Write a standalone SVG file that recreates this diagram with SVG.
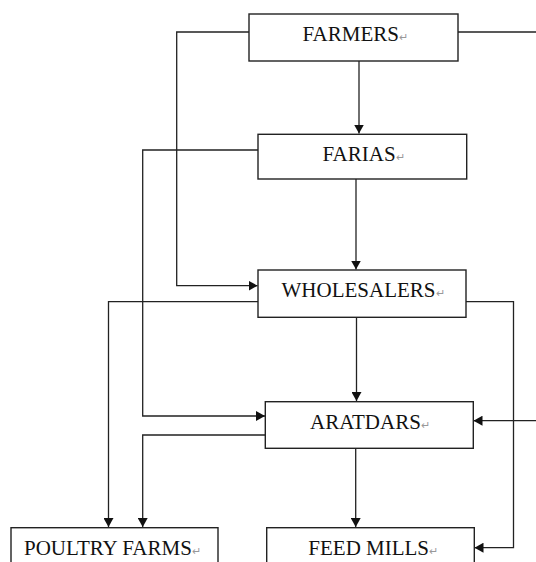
<svg xmlns="http://www.w3.org/2000/svg" width="536" height="562" viewBox="0 0 536 562">
<style>
.box{fill:#fff;stroke:#222;stroke-width:1.4}
.lbl{font-family:"Liberation Serif","Times New Roman",serif;font-size:21px;fill:#111}
.rm{font-size:11px;fill:#999}
.con{fill:none;stroke:#222;stroke-width:1.3}
</style>
<defs>
<marker id="ah" markerUnits="userSpaceOnUse" markerWidth="10" markerHeight="10" refX="9" refY="5" orient="auto">
<path d="M0,0 L9,5 L0,10 z" fill="#111"/>
</marker>
</defs>
<rect width="536" height="562" fill="#fff"/>
<g id="connectors">
<path class="con" d="M249,32 H176.7 V285.7 H257.5" marker-end="url(#ah)"/>
<path class="con" d="M458,32 H536"/>
<path class="con" d="M359,61 V133.5" marker-end="url(#ah)"/>
<path class="con" d="M258,150 H142.7 V416 H265" marker-end="url(#ah)"/>
<path class="con" d="M356,179 V269.5" marker-end="url(#ah)"/>
<path class="con" d="M258,301.7 H108.5 V527" marker-end="url(#ah)"/>
<path class="con" d="M466,301.7 H513.5 V547.7 H474.5" marker-end="url(#ah)"/>
<path class="con" d="M356.5,317 V401" marker-end="url(#ah)"/>
<path class="con" d="M536,420.7 H473.5" marker-end="url(#ah)"/>
<path class="con" d="M267,435 H142.7 V527" marker-end="url(#ah)"/>
<path class="con" d="M355.7,448.3 V527" marker-end="url(#ah)"/>
</g>
<g id="farmers">
<rect class="box" x="249" y="14" width="209" height="47"/>
<text class="lbl" x="302.5" y="41">FARMERS<tspan class="rm">↵</tspan></text>
</g>
<g id="farias">
<rect class="box" x="258" y="134.3" width="208.7" height="44.7"/>
<text class="lbl" x="322.5" y="160.7">FARIAS<tspan class="rm">↵</tspan></text>
</g>
<g id="wholesalers">
<rect class="box" x="258" y="270" width="208" height="47.3"/>
<text class="lbl" x="281.5" y="296.7">WHOLESALERS<tspan class="rm">↵</tspan></text>
</g>
<g id="aratdars">
<rect class="box" x="265.3" y="401.7" width="208" height="46.6"/>
<text class="lbl" x="310" y="429">ARATDARS<tspan class="rm">↵</tspan></text>
</g>
<g id="poultry-farms">
<rect class="box" x="11" y="527.7" width="207" height="40"/>
<text class="lbl" x="24" y="555">POULTRY FARMS<tspan class="rm">↵</tspan></text>
</g>
<g id="feed-mills">
<rect class="box" x="266.7" y="527.7" width="207.6" height="40"/>
<text class="lbl" x="308.3" y="555">FEED MILLS<tspan class="rm">↵</tspan></text>
</g>
</svg>
